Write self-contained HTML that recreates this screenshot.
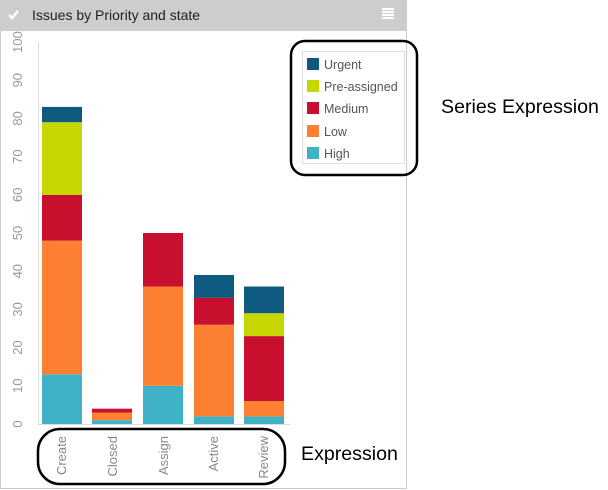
<!DOCTYPE html>
<html><head><style>body{margin:0;background:#fff}svg{display:block}</style></head><body>
<svg width="608" height="490" xmlns="http://www.w3.org/2000/svg" font-family="Liberation Sans, sans-serif">
<rect x="0.5" y="0.5" width="406" height="488" fill="#fff" stroke="#ccc"/>
<rect x="0" y="0" width="407" height="31" fill="#cdcdcd"/>
<path d="M9 15 l3 3 l6 -7" stroke="#fff" stroke-width="2.5" fill="none"/>
<text x="32" y="20" font-size="14" fill="#222">Issues by Priority and state</text>
<g fill="#fff"><rect x="382" y="8" width="12" height="2"/><rect x="382" y="11" width="12" height="2"/><rect x="382" y="14" width="12" height="2"/><rect x="382" y="17" width="12" height="2"/></g>
<line x1="38.5" y1="42" x2="38.5" y2="424" stroke="#ddd"/>
<line x1="38" y1="424.5" x2="290" y2="424.5" stroke="#ddd"/>
<g font-size="13" fill="#999" text-anchor="middle">
<text transform="translate(22,424) rotate(-90)">0</text>
<text transform="translate(22,385.8) rotate(-90)">10</text>
<text transform="translate(22,347.6) rotate(-90)">20</text>
<text transform="translate(22,309.4) rotate(-90)">30</text>
<text transform="translate(22,271.2) rotate(-90)">40</text>
<text transform="translate(22,233) rotate(-90)">50</text>
<text transform="translate(22,194.8) rotate(-90)">60</text>
<text transform="translate(22,156.6) rotate(-90)">70</text>
<text transform="translate(22,118.4) rotate(-90)">80</text>
<text transform="translate(22,80.2) rotate(-90)">90</text>
<text transform="translate(22,42) rotate(-90)">100</text>
</g>
<g>
<rect x="42" y="374.3" width="40" height="49.7" fill="#3fb2c8"/>
<rect x="42" y="240.6" width="40" height="133.7" fill="#fd7f32"/>
<rect x="42" y="194.8" width="40" height="45.8" fill="#c8102e"/>
<rect x="42" y="122.2" width="40" height="72.6" fill="#c5d600"/>
<rect x="42" y="106.9" width="40" height="15.3" fill="#0e5a80"/>
<rect x="92" y="420.2" width="40" height="3.8" fill="#3fb2c8"/>
<rect x="92" y="412.5" width="40" height="7.7" fill="#fd7f32"/>
<rect x="92" y="408.7" width="40" height="3.8" fill="#c8102e"/>
<rect x="143" y="385.8" width="40" height="38.2" fill="#3fb2c8"/>
<rect x="143" y="286.5" width="40" height="99.3" fill="#fd7f32"/>
<rect x="143" y="233" width="40" height="53.5" fill="#c8102e"/>
<rect x="194" y="416.4" width="40" height="7.6" fill="#3fb2c8"/>
<rect x="194" y="324.7" width="40" height="91.7" fill="#fd7f32"/>
<rect x="194" y="297.9" width="40" height="26.8" fill="#c8102e"/>
<rect x="194" y="275" width="40" height="22.9" fill="#0e5a80"/>
<rect x="244" y="416.4" width="40" height="7.6" fill="#3fb2c8"/>
<rect x="244" y="401.1" width="40" height="15.3" fill="#fd7f32"/>
<rect x="244" y="336.1" width="40" height="65" fill="#c8102e"/>
<rect x="244" y="313.2" width="40" height="22.9" fill="#c5d600"/>
<rect x="244" y="286.5" width="40" height="26.7" fill="#0e5a80"/>
</g>
<g font-size="13" fill="#888" text-anchor="end">
<text transform="translate(66,436) rotate(-90)">Create</text>
<text transform="translate(117,436) rotate(-90)">Closed</text>
<text transform="translate(168,436) rotate(-90)">Assign</text>
<text transform="translate(218,436) rotate(-90)">Active</text>
<text transform="translate(268,436) rotate(-90)">Review</text>
</g>
<rect x="302.5" y="51.5" width="102" height="112" fill="#fff" stroke="#ddd"/>
<g font-size="12.5" fill="#555">
<rect x="307" y="58" width="12" height="12" fill="#0e5a80"/><text x="324" y="69">Urgent</text>
<rect x="307" y="80" width="12" height="12" fill="#c5d600"/><text x="324" y="91">Pre-assigned</text>
<rect x="307" y="102" width="12" height="12" fill="#c8102e"/><text x="324" y="113">Medium</text>
<rect x="307" y="125" width="12" height="12" fill="#fd7f32"/><text x="324" y="136">Low</text>
<rect x="307" y="147" width="12" height="12" fill="#3fb2c8"/><text x="324" y="158">High</text>
</g>
<rect x="291" y="41" width="126" height="134" rx="14" fill="none" stroke="#000" stroke-width="2.5"/>
<rect x="38" y="429" width="247" height="55" rx="22" fill="none" stroke="#000" stroke-width="2.5"/>
<text x="441" y="113" font-size="19.6" fill="#000">Series Expression</text>
<text x="301" y="460" font-size="19.6" fill="#000">Expression</text>
</svg>
</body></html>
